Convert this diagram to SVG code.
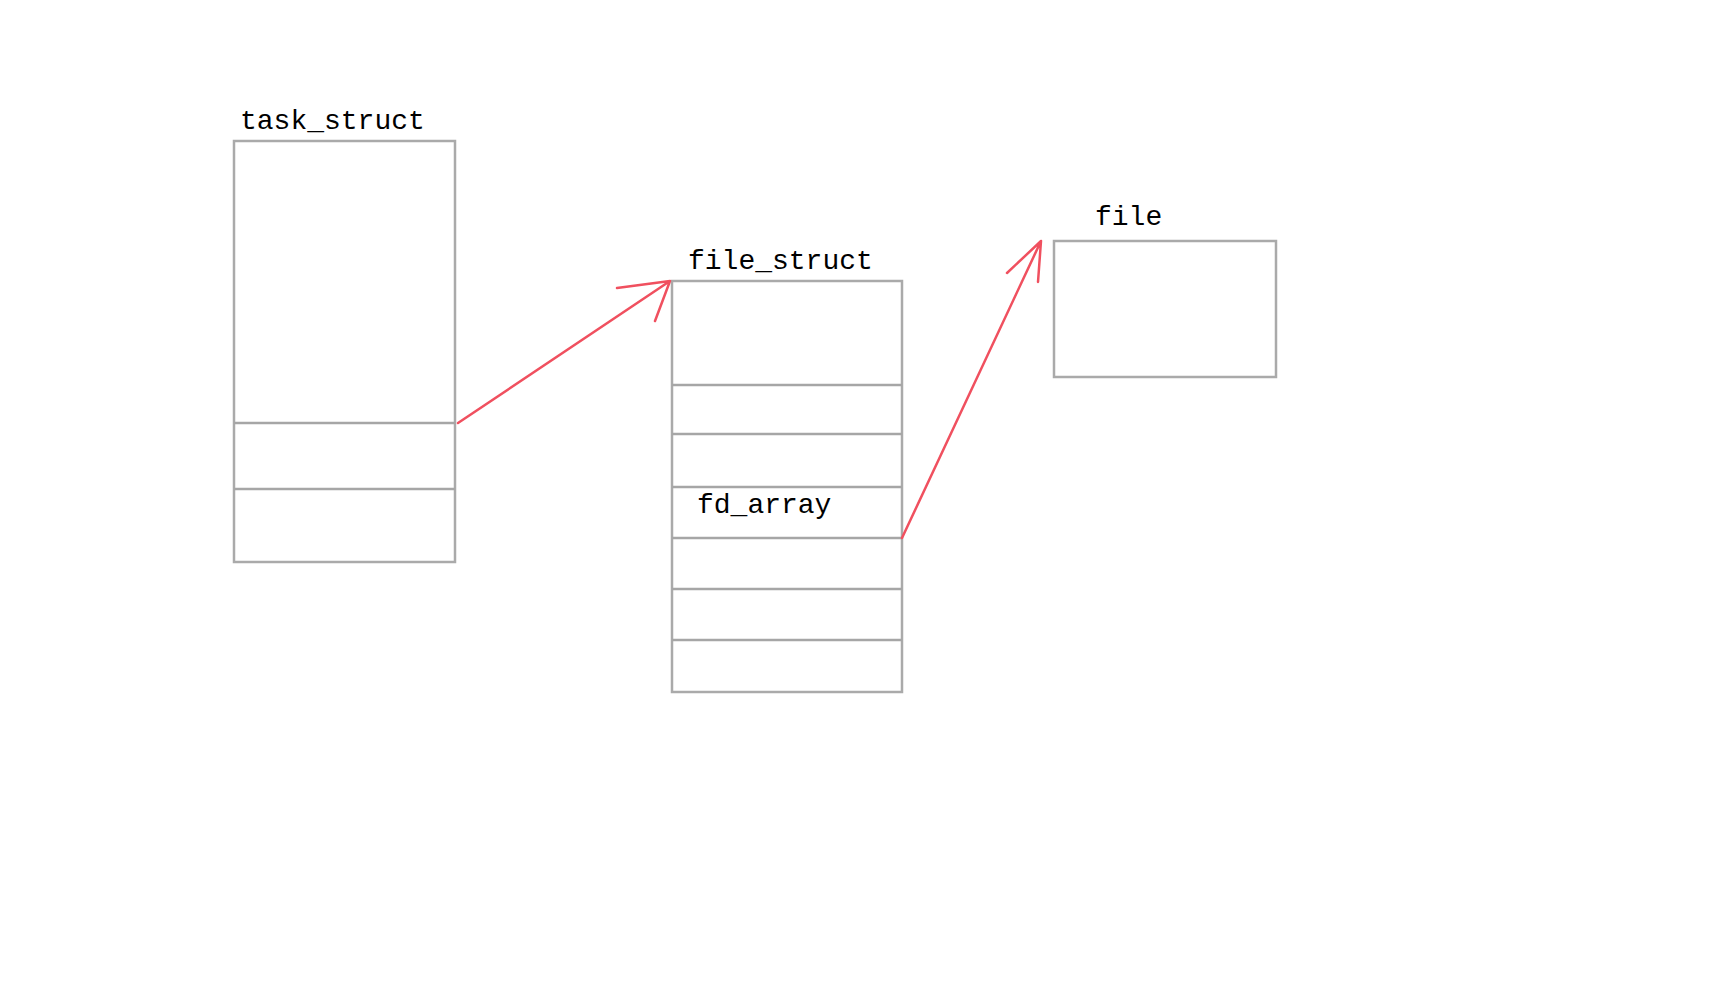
<svg xmlns="http://www.w3.org/2000/svg" width="1718" height="1000" viewBox="0 0 1718 1000">
<style>
.box{fill:#fff;stroke:#aaaaaa;stroke-width:2.5}
.div{stroke:#a6a6a6;stroke-width:2.5;fill:none}
.lbl{font-family:"Liberation Mono","DejaVu Sans Mono",monospace;font-size:28px;fill:#000}
.arr{stroke:#f0505f;stroke-width:2.5;fill:none;stroke-linecap:round;stroke-linejoin:round}
</style>
<rect width="1718" height="1000" fill="#fff"/>
<g id="task_struct">
<rect class="box" x="234" y="141" width="221" height="421"/>
<line class="div" x1="234" y1="423" x2="455" y2="423"/>
<line class="div" x1="234" y1="489" x2="455" y2="489"/>
<text class="lbl" x="240" y="129">task_struct</text>
</g>
<g id="file_struct">
<rect class="box" x="672" y="281" width="230" height="411"/>
<line class="div" x1="672" y1="385" x2="902" y2="385"/>
<line class="div" x1="672" y1="434" x2="902" y2="434"/>
<line class="div" x1="672" y1="487" x2="902" y2="487"/>
<line class="div" x1="672" y1="538" x2="902" y2="538"/>
<line class="div" x1="672" y1="589" x2="902" y2="589"/>
<line class="div" x1="672" y1="640" x2="902" y2="640"/>
<text class="lbl" x="688" y="269">file_struct</text>
<text class="lbl" x="697" y="513">fd_array</text>
</g>
<g id="file">
<rect class="box" x="1054" y="241" width="222" height="136"/>
<text class="lbl" x="1095" y="225">file</text>
</g>
<g id="connectors">
<path class="arr" d="M458 423 L670 281 M617 288 L670 281 L655 321"/>
<path class="arr" d="M902 538 L1041 241 M1007 273 L1041 241 L1038 282"/>
</g>
</svg>
